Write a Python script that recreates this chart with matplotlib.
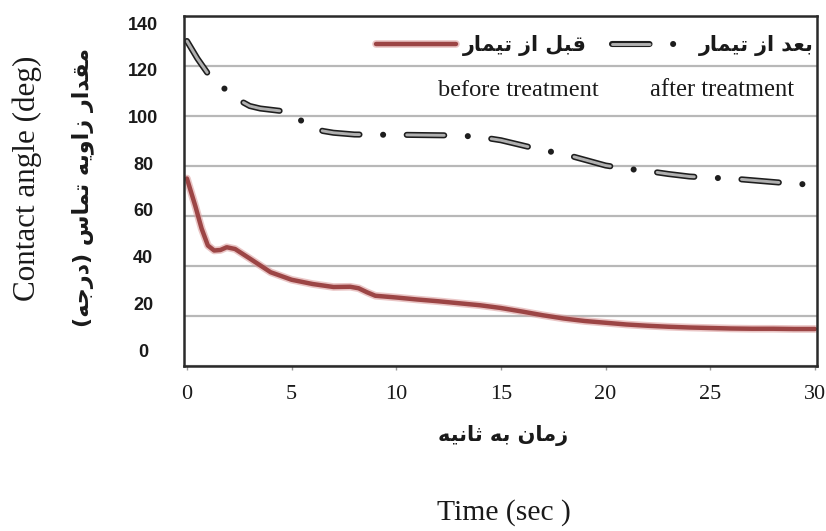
import matplotlib
matplotlib.use("Agg")
import matplotlib.pyplot as plt
from matplotlib.lines import Line2D
from matplotlib.legend_handler import HandlerTuple

# ---------------- data ----------------
time_before = [0, 0.4, 0.7, 1.0, 1.3, 1.6, 1.9, 2.3, 3, 4, 5, 6, 7, 7.8, 8.2, 8.6, 9,
               10, 11, 12, 13, 14, 15, 16, 17, 18, 19, 20, 21, 22, 23, 24, 25, 26,
               27, 28, 29, 30]
angle_before = [75, 64, 55, 48.2, 46.2, 46.4, 47.5, 46.8, 43, 37.5, 34.5, 32.8, 31.6,
                31.7, 31.1, 29.5, 28.1, 27.4, 26.6, 25.9, 25.1, 24.3, 23.2, 21.8, 20.3,
                19.0, 18.0, 17.3, 16.6, 16.1, 15.7, 15.4, 15.2, 15.0, 14.9, 14.9, 14.8,
                14.8]
time_after = [0, 0.5, 1.0, 1.5, 2.0, 2.5, 3.0, 3.5, 4.0, 4.5, 5.0, 5.5, 6.0, 6.5, 7, 8,
              9, 10, 11, 12, 13, 14, 15, 16, 17, 18, 19, 20, 21, 22, 23, 24, 25, 26,
              27, 28, 29, 30]
angle_after = [130, 123, 117, 113, 109.5, 106.3, 104, 103, 102.5, 102, 100, 98, 95.5,
               94, 93.3, 92.6, 92.5, 92.5, 92.4, 92.3, 92.2, 91.6, 90.3, 88.3, 86.3,
               84.8, 82.5, 80.2, 78.9, 78, 76.8, 75.8, 75.3, 75, 74.3, 73.6, 72.9, 72.5]
xticks = [0, 5, 10, 15, 20, 25, 30]
yticks = [0, 20, 40, 60, 80, 100, 120, 140]

label_before_fa = "قبل از تیمار"
label_after_fa = "بعد از تیمار"
label_before_en = "before treatment"
label_after_en = "after treatment"
xlabel_fa = "زمان به ثانیه"
xlabel_en = "Time (sec )"
ylabel_fa = "مقدار زاویه تماس (درجه)"
ylabel_en = "Contact angle (deg)"

# ---------------- simple Persian shaping (no shaping engine in matplotlib) ----
FORMS = {
    'ا': ('\uFE8D', '\uFE8E', None, None),
    'ب': ('\uFE8F', '\uFE90', '\uFE91', '\uFE92'),
    'ت': ('\uFE95', '\uFE96', '\uFE97', '\uFE98'),
    'ث': ('\uFE99', '\uFE9A', '\uFE9B', '\uFE9C'),
    'ج': ('\uFE9D', '\uFE9E', '\uFE9F', '\uFEA0'),
    'د': ('\uFEA9', '\uFEAA', None, None),
    'ر': ('\uFEAD', '\uFEAE', None, None),
    'ز': ('\uFEAF', '\uFEB0', None, None),
    'س': ('\uFEB1', '\uFEB2', '\uFEB3', '\uFEB4'),
    'ع': ('\uFEC9', '\uFECA', '\uFECB', '\uFECC'),
    'ق': ('\uFED5', '\uFED6', '\uFED7', '\uFED8'),
    'ل': ('\uFEDD', '\uFEDE', '\uFEDF', '\uFEE0'),
    'م': ('\uFEE1', '\uFEE2', '\uFEE3', '\uFEE4'),
    'ن': ('\uFEE5', '\uFEE6', '\uFEE7', '\uFEE8'),
    'ه': ('\uFEE9', '\uFEEA', '\uFEEB', '\uFEEC'),
    'و': ('\uFEED', '\uFEEE', None, None),
    'ی': ('\uFBFC', '\uFBFD', '\uFEF3', '\uFEF4'),
}


def shape(s):
    out = []
    n = len(s)
    for i, c in enumerate(s):
        if c not in FORMS:
            out.append(c)
            continue
        f = FORMS[c]
        prev = s[i - 1] if i > 0 else None
        nxt = s[i + 1] if i < n - 1 else None
        jp = prev in FORMS and FORMS[prev][2] is not None
        jn = f[2] is not None and nxt in FORMS
        if jp and jn:
            g = f[3]
        elif jp:
            g = f[1]
        elif jn:
            g = f[2]
        else:
            g = f[0]
        out.append(g)
    vis = ''.join(reversed(out))
    return vis.translate(str.maketrans('()', ')('))


plt.rcParams['lines.scale_dashes'] = False
FA_FONT = ['DejaVu Sans']
EN_FONT = ['Liberation Serif', 'DejaVu Serif']

W, H = 826, 531
fig = plt.figure(figsize=(W / 100, H / 100), dpi=100)
fig.patch.set_facecolor('white')

L, R, T, B = 184, 817, 16, 366
ax = fig.add_axes([L / W, 1 - B / H, (R - L) / W, (B - T) / H])
ax.set_xlim(-0.14, 30.1)
ax.set_ylim(0, 140)
ax.set_yticks(yticks)
ax.yaxis.grid(True, color='#b8b8b8', lw=1.6)
ax.set_axisbelow(True)
ax.tick_params(axis='y', length=0, labelleft=False)
ax.set_xticks(xticks)
ax.tick_params(axis='x', direction='out', length=3, width=1, color='#9a9a9a', pad=11)
for lab in ax.get_xticklabels():
    lab.set_fontfamily(EN_FONT)
    lab.set_fontsize(16)
    lab.set_color('#1a1a1a')
for s in ax.spines.values():
    s.set_color('#2a2a2a')
    s.set_linewidth(1.8)

# y tick labels (their positions in the reference are slightly compressed)
ax2 = ax.twinx()
ax2.set_ylim(-6.8, 143.0)
ax2.set_yticks(yticks)
ax2.yaxis.tick_left()
ax2.tick_params(axis='y', length=0, pad=29.5)
for lab in ax2.get_yticklabels():
    lab.set_fontfamily(['Liberation Sans', 'DejaVu Sans'])
    lab.set_fontweight('bold')
    lab.set_fontsize(13)
    lab.set_horizontalalignment('center')
    lab.set_color('#1a1a1a')
for s in ax2.spines.values():
    s.set_visible(False)

# ---------------- series ----------------
red_halo = dict(color='#dca0a0', lw=5.5, alpha=0.6, solid_capstyle='round')
red_core = dict(color='#9c4545', lw=3.2, solid_capstyle='round')
gray_outer = dict(color='#1e1e1e', lw=4.4, linestyle=(0, (27, 17, 0.01, 17)),
                  dash_capstyle='round', dash_joinstyle='round')
gray_inner = dict(color='#b0b0b0', lw=2.1, linestyle=(0, (27, 34.01)),
                  dash_capstyle='round', dash_joinstyle='round')

ax.plot(time_before, angle_before, **red_halo)
ax.plot(time_before, angle_before, **red_core)
ax.plot(time_after, angle_after, **gray_outer)
ax.plot(time_after, angle_after, **gray_inner)

renderer = fig.canvas.get_renderer()


def fit(t, target, vertical=False):
    bb = t.get_window_extent(renderer=renderer)
    w = bb.height if vertical else bb.width
    t.set_fontsize(t.get_fontsize() * target / w)
    return t


# ---------------- legend ----------------
tmp = fig.text(0, 0, shape(label_before_fa), family=FA_FONT, weight='bold', fontsize=12)
fit(tmp, 123)
fa_fs = tmp.get_fontsize()
tmp.remove()
fs_px = fa_fs * 100 / 72

h_before = (Line2D([], [], **red_halo), Line2D([], [], **red_core))
h_after = (Line2D([], [], **gray_outer), Line2D([], [], **gray_inner))
leg = ax.legend(handles=[h_before, h_after],
                labels=[shape(label_before_fa), shape(label_after_fa)],
                handler_map={tuple: HandlerTuple(ndivide=1)},
                ncol=2, frameon=False, loc='center right',
                bbox_to_anchor=((814 - L) / (R - L), (B - 46) / (B - T)),
                borderpad=0, borderaxespad=0,
                handlelength=80 / fs_px, handletextpad=7 / fs_px,
                columnspacing=25 / fs_px,
                prop={'family': FA_FONT, 'weight': 'bold', 'size': fa_fs})
for t in leg.get_texts():
    t.set_color('#1a1a1a')

tb = ax.text((518 - L) / (R - L), (B - 90) / (B - T), label_before_en,
             transform=ax.transAxes, ha='center', va='center', family=EN_FONT,
             fontsize=15, color='#1a1a1a')
fit(tb, 162)
ta = ax.text((722.5 - L) / (R - L), (B - 90) / (B - T), label_after_en,
             transform=ax.transAxes, ha='center', va='center', family=EN_FONT,
             fontsize=15, color='#1a1a1a')
fit(ta, 145)

# ---------------- axis titles ----------------
t1 = fig.text(503 / W, 1 - 435 / H, shape(xlabel_fa), ha='center', va='center',
              family=FA_FONT, weight='bold', fontsize=14, color='#1a1a1a')
fit(t1, 131)
t2 = fig.text(504 / W, 1 - 513 / H, xlabel_en, ha='center', va='center',
              family=EN_FONT, fontsize=20, color='#1a1a1a')
fit(t2, 134)
t3 = fig.text(27 / W, 1 - 178 / H, ylabel_en, ha='center', va='center', rotation=90,
              family=EN_FONT, fontsize=20, color='#1a1a1a')
fit(t3, 245, vertical=True)
t4 = fig.text(83 / W, 1 - 188 / H, shape(ylabel_fa), ha='center', va='center',
              rotation=90, family=FA_FONT, weight='bold', fontsize=14, color='#1a1a1a')
fit(t4, 281, vertical=True)

fig.savefig('out.png', dpi=100, facecolor='white')
